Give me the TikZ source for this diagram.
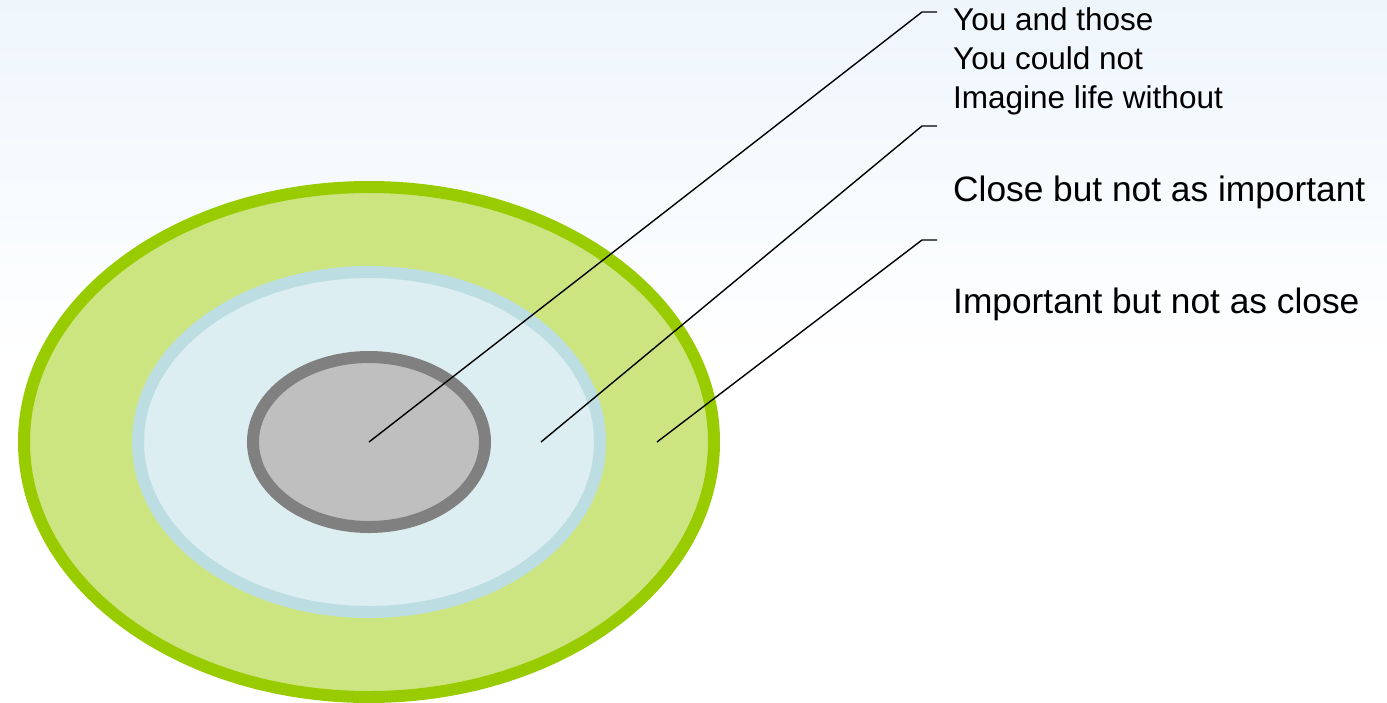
\documentclass[tikz,border=0pt]{standalone}
\usepackage{fontspec}
\setmainfont{Liberation Sans}
\usetikzlibrary{shapes.geometric}
\definecolor{bgtop}{RGB}{238,246,252}
\definecolor{ringgreen}{RGB}{153,204,0}
\definecolor{fillgreen}{RGB}{204,229,129}
\definecolor{ringblue}{RGB}{188,222,227}
\definecolor{fillblue}{RGB}{220,238,241}
\definecolor{ringgray}{RGB}{128,128,128}
\definecolor{fillgray}{RGB}{191,191,191}
\tikzset{
  ring/.style={ellipse, inner sep=0pt, line width=12pt},
  leader/.style={draw=black, line width=1.4pt},
  lbl/.style={anchor=base west, inner sep=0pt, text=black},
}
\begin{document}
\begin{tikzpicture}[x=1pt,y=-1pt]
\useasboundingbox (0,0) rectangle (1387,702);
\fill[white] (0,0) rectangle (1387,702);
\shade[top color=bgtop, bottom color=white] (0,0) rectangle (1387,360);
\node[ring, draw=ringgreen, fill=fillgreen, minimum width=690pt, minimum height=510pt] (outer) at (369,442) {};
\node[ring, draw=ringblue, fill=fillblue, minimum width=462pt, minimum height=340pt] (middle) at (369,442) {};
\node[ring, draw=ringgray, fill=fillgray, minimum width=232pt, minimum height=170pt] (inner) at (369,442) {};
\coordinate (p1) at (369,442);
\coordinate (p2) at (541,442);
\coordinate (p3) at (657,442);
\coordinate (k1) at (922,12);
\coordinate (k2) at (922,126);
\coordinate (k3) at (922,240);
\coordinate (e1) at (937,12);
\coordinate (e2) at (937,126);
\coordinate (e3) at (937,240);
\draw[leader] (p1) -- (k1) -- (e1);
\draw[leader] (p2) -- (k2) -- (e2);
\draw[leader] (p3) -- (k3) -- (e3);
\node[lbl, font=\fontsize{31.5}{39}\selectfont] (t1a) at (953,30) {You and those};
\node[lbl, font=\fontsize{31.5}{39}\selectfont] (t1b) at (953,69) {You could not};
\node[lbl, font=\fontsize{31.5}{39}\selectfont] (t1c) at (953,108) {Imagine life without};
\node[lbl, font=\fontsize{35.3}{40}\selectfont] (t2) at (953,201) {Close but not as important};
\node[lbl, font=\fontsize{35.3}{40}\selectfont] (t3) at (953,313) {Important but not as close};
\end{tikzpicture}
\end{document}
